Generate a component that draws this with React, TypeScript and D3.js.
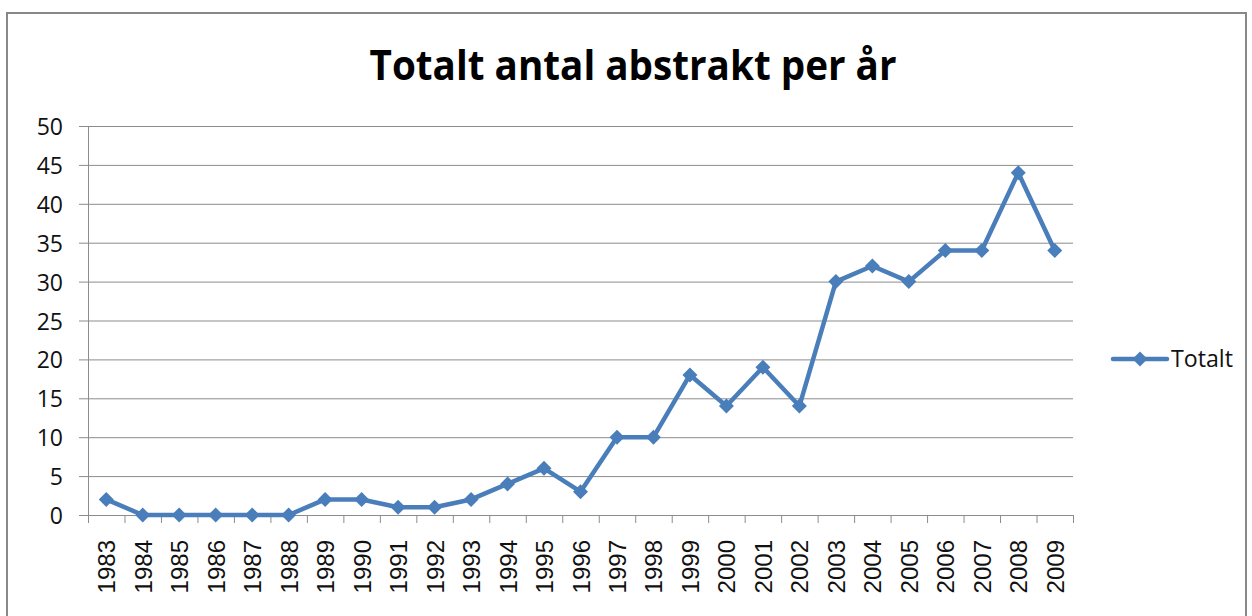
import React from "react";
import * as d3 from "d3";

const width = 1252;
const height = 616;
const margin = { top: 126, right: 179, bottom: 101, left: 88 };

const years = ["1983", "1984", "1985", "1986", "1987", "1988", "1989", "1990", "1991", "1992", "1993", "1994", "1995", "1996", "1997", "1998", "1999", "2000", "2001", "2002", "2003", "2004", "2005", "2006", "2007", "2008", "2009"];
const totals = [2, 0, 0, 0, 0, 0, 2, 2, 1, 1, 2, 4, 6, 3, 10, 10, 18, 14, 19, 14, 30, 32, 30, 34, 34, 44, 34];
const yTicks = [0, 5, 10, 15, 20, 25, 30, 35, 40, 45, 50];

const lineColor = "#4a7ebb";
const gridColor = "#8c8c8c";

const diamond = (x: number, y: number, r = 7.5) =>
  `M${x},${y - r}L${x + r},${y}L${x},${y + r}L${x - r},${y}Z`;

export default function App() {
  const x = d3.scaleBand()
    .domain(years)
    .range([margin.left, width - margin.right]);
  const y = d3.scaleLinear()
    .domain([0, 50])
    .range([height - margin.bottom, margin.top]);

  const cx = (yr: string) => (x(yr) as number) + x.bandwidth() / 2;
  const line = d3.line<number>()
    .x((_, i) => cx(years[i]))
    .y(d => y(d));

  const x0 = margin.left;
  const x1 = width - margin.right;
  const yb = y(0);
  const boundaries = years.map(yr => x(yr) as number).concat([x1]);

  return (
    <svg width={width} height={height} style={{ display: "block", position: "absolute", left: 0, top: 0 }}>
      <rect x={0} y={0} width={width} height={height} fill="#fff" />
      <rect x={7} y={13} width={1239} height={640} fill="none" stroke="#888" strokeWidth={2} />
      <text x={633} y={80} textAnchor="middle" fontFamily="'Open Sans', sans-serif" fontWeight="bold"
        fontSize={42} textLength={527} lengthAdjust="spacingAndGlyphs" fill="#000">
        Totalt antal abstrakt per år
      </text>
      {yTicks.map(t => (
        <g key={t}>
          {t > 0 && <line x1={x0} x2={x1} y1={y(t) + 0.5} y2={y(t) + 0.5} stroke={gridColor} strokeWidth={1} />}
          <line x1={x0 - 9} x2={x0} y1={y(t) + 0.5} y2={y(t) + 0.5} stroke={gridColor} strokeWidth={1} />
          <text x={63} y={y(t) + 9} textAnchor="end" fontFamily="'Open Sans', sans-serif" fontSize={23} fill="#111">
            {t}
          </text>
        </g>
      ))}
      <line x1={x0 + 0.5} x2={x0 + 0.5} y1={margin.top} y2={yb} stroke={gridColor} strokeWidth={1} />
      <line x1={x0} x2={x1} y1={yb + 0.5} y2={yb + 0.5} stroke={gridColor} strokeWidth={1} />
      {boundaries.map((b, i) => (
        <line key={i} x1={b + 0.5} x2={b + 0.5} y1={yb} y2={yb + 8} stroke={gridColor} strokeWidth={1} />
      ))}
      {years.map(yr => (
        <text key={yr} transform={`translate(${cx(yr) + 9},${yb + 25}) rotate(-90)`} textAnchor="end"
          fontFamily="'Liberation Sans', Arial, sans-serif" fontSize={24} fill="#111">
          {yr}
        </text>
      ))}
      <path d={line(totals) as string} fill="none" stroke={lineColor} strokeWidth={4.5} strokeLinejoin="round" />
      {totals.map((v, i) => (
        <path key={i} d={diamond(cx(years[i]), y(v))} fill={lineColor} />
      ))}
      <line x1={1113} x2={1167} y1={359} y2={359} stroke={lineColor} strokeWidth={4.5} strokeLinecap="round" />
      <path d={diamond(1140, 359)} fill={lineColor} />
      <text x={1171} y={367} fontFamily="'Open Sans', sans-serif" fontSize={23} textLength={62}
        lengthAdjust="spacingAndGlyphs" fill="#111">Totalt</text>
    </svg>
  );
}
